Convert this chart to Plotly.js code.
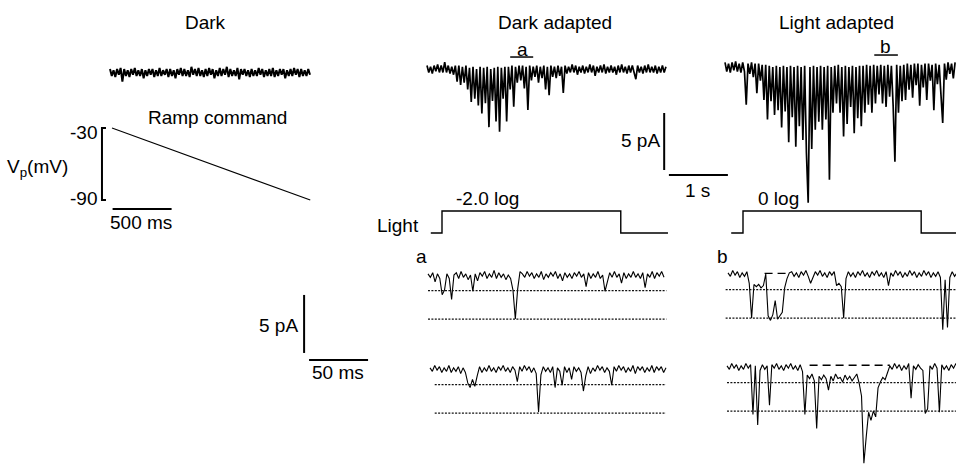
<!DOCTYPE html>
<html><head><meta charset="utf-8">
<script src="https://cdn.plot.ly/plotly-3.0.1.min.js"></script>
<style>html,body{margin:0;padding:0;background:#fff}#chart{width:956px;height:464px}</style>
</head><body><div id="chart"></div>
<script>
// ---------------- data ----------------
// Dark, ramp command: current trace (pA), sampled every darkDt seconds
const darkDt = 0.015;
const darkTrace = [
0.3,-0.3,0.2,-0.4,0.3,-0.2,0.4,-0.8,0.3,-0.3,
0.2,-0.4,0.3,-0.2,0.4,-0.3,0.2,-0.3,0.3,-0.5,
0.2,-0.3,0.3,-0.2,0.3,-0.4,0.2,-0.3,0.4,-0.3,
0.2,-0.2,0.3,-0.4,0.3,-0.3,0.2,-0.5,0.3,-0.2,
0.4,-0.3,0.3,-0.3,0.2,-0.4,0.5,-0.2,0.3,-0.3,
0.4,-0.3,0.2,-0.4,0.3,-0.3,0.4,-0.2,0.3,-0.5,
0.2,-0.3,0.4,-0.3,0.3,-0.2,0.5,-0.4,0.3,-0.3,
0.2,-0.3,0.4,-0.6,0.3,-0.2,0.3,-0.3,0.2,-0.4,
0.3,-0.3,0.2,-0.3,0.4,-0.2,0.3,-0.4,0.2,-0.3,
0.3,-0.3,0.4,-0.4,0.2,-0.3,0.3,-0.2,0.3,-0.5,
0.2,-0.3,0.3,-0.3,0.4,-0.2,0.3,-0.4,0.3,-0.3,
0.2,-0.3,0.3,-0.2];
const rampTime = [0, 1680];      // ms
const rampVoltage = [-30, -90];  // mV

// Dark adapted / light adapted traces (pA), sampled every adaptDt seconds
const adaptDt = 0.03;
const darkAdaptedTrace = [
0.3,-0.3,0.2,-0.4,0.3,-0.2,0.4,-0.3,0.3,-0.3,0.6,-0.3,0.3,-0.4,0.2,-0.5,0.3,
-1.1,0.3,-1.4,0.2,-1.2,0.3,
-1.8,0.1,-2.9,0.2,
-2.6,0.0,-3.2,0.2,-3.9,
0.1,-3.0,0.2,-5.1,0.0,
-2.8,0.1,-4.6,0.2,
-5.5,
0.1,-2.6,0.2,-4.6,
0.2,-1.8,0.3,-3.3,0.2,
-1.2,0.3,-1.0,0.3,-1.7,
0.2,-3.6,
0.3,-1.0,0.2,-0.7,0.3,-1.2,0.2,-0.8,0.3,-1.8,
0.2,-2.3,
0.3,-0.7,0.2,-0.8,0.3,-0.6,0.2,
-2.1,
0.3,-0.4,0.2,-0.3,0.4,-0.3,0.3,-0.5,0.2,-0.3,0.3,-0.4,0.2,-0.3,0.4,-0.3,0.3,-0.6,0.2,-0.3,
0.3,-0.3,0.4,-0.4,0.2,-0.3,0.3,-0.3,0.2,-0.5,0.3,-0.3,0.4,-0.3,0.2,-0.4,0.3,-0.3,0.3,-0.3,
-0.9,0.3,-0.3,0.2,-0.4,0.3,-0.3,0.4,-0.3,0.2,-0.3,0.3,-0.4,0.2,-0.3,0.3,-0.3,0.2];
const lightAdaptedTrace = [
0.4,-0.4,0.3,-0.5,0.4,-0.3,0.5,-0.4,0.3,-0.5,0.4,-0.4,
-3.3,0.3,-0.6,0.4,-0.9,0.3,
-2.3,0.3,-1.2,0.2,-2.9,0.2,
-4.6,0.1,-3.0,0.0,-4.2,0.1,-3.8,0.0,
-5.3,0.1,-3.9,0.0,-6.6,0.1,-4.4,0.0,-7.0,
0.1,-5.2,0.0,-6.4,0.1,-7.5,
-11.9,
0.0,-7.2,0.1,-5.5,0.0,-4.8,0.1,
-5.5,0.0,-4.6,0.1,-9.9,0.0,
-4.0,0.1,-3.2,0.2,-4.0,0.0,
-6.1,0.1,-5.0,0.0,
-3.5,0.1,-5.8,0.0,-4.5,0.1,-5.2,
0.1,-4.0,0.2,-3.3,0.1,-4.0,
0.2,-3.2,0.1,-2.4,0.2,-3.2,
0.1,-3.5,0.2,-2.6,0.1,-3.4,
-8.3,
0.2,-4.0,0.1,-3.0,0.2,
-2.9,0.3,-2.0,0.2,-2.7,0.3,-1.6,
0.3,-3.4,0.2,-1.8,0.3,-2.9,0.3,-1.2,0.2,-3.8,0.3,-1.5,0.2,-2.4,
-4.9,
0.3,-1.1,0.4,-0.6,0.3,-1.0,0.4];
// Light stimulus: times (s) relative to light onset, level 0 = off, 1 = on
const stepDarkT  = [-0.19, 0, 0, 3.03, 3.03, 3.83];
const stepLightT = [-0.20, 0, 0, 3.02, 3.02, 3.61];
const stepLevel  = [0, 0, 1, 1, 0, 0];
const stepLabels = ['-2.0 log', '0 log'];
// Segments (s) shown expanded below
const segA = [1.41, 1.80];
const segB = [2.53, 2.93];

// Expanded single-channel records (pA), sampled every fastDt ms
const fastDt = 2;
const traceA1 = [
0.1,-0.2,0.2,-0.6,0.1,-0.3,-1.7,-1.3,0.1,-0.3,
-2.1,0.0,0.2,-0.3,0.3,-0.2,0.1,-0.4,0.0,-1.4,
0.1,-0.5,0.2,-0.1,0.3,-0.3,0.1,-0.2,0.4,-0.3,
0.2,-0.2,0.1,-0.4,0.0,-0.3,-1.3,-3.8,-1.2,0.3,
0.1,-0.2,0.3,-0.1,0.2,-0.3,0.1,-0.2,0.3,-0.4,
0.1,-0.2,0.2,-0.1,0.3,-0.3,0.1,-0.5,0.2,-0.2,
0.1,-0.3,0.2,-0.1,0.3,-0.2,0.1,-1.0,0.2,-0.3,
0.1,-0.2,0.3,-0.3,0.0,-1.4,-0.6,0.2,-0.2,0.3,
-0.2,0.1,-0.7,0.2,-0.3,0.1,-0.2,0.3,-0.2,0.1,
-0.3,0.2,-1.1,0.1,-0.2,0.3,-0.3,0.2,-0.1,0.3,-0.2];
const traceA2 = [
0.1,-0.2,0.3,-0.1,0.2,-0.3,0.1,-0.2,0.3,-0.3,
0.1,-0.2,0.2,-0.4,0.1,-0.3,-1.2,-1.6,-0.9,-1.5,
-0.6,0.2,-0.3,0.1,-0.2,0.3,-0.2,0.1,-0.3,0.2,
-0.1,0.3,-0.2,0.1,-0.3,0.2,-0.1,-1.1,0.2,-0.2,
0.3,-0.1,0.2,-0.3,0.1,-0.4,-3.7,-0.5,0.2,-0.2,
0.1,-0.3,0.2,-1.6,0.1,-0.2,-1.4,0.2,-0.3,0.1,
-0.9,0.2,-0.2,0.1,-0.3,-1.9,-0.6,0.2,-0.4,0.1,
-0.2,0.3,-0.1,0.2,-0.3,0.1,-0.2,-1.4,0.2,-0.2,
0.3,-0.1,0.2,-0.3,0.1,-0.2,0.3,-0.4,0.2,-0.1,
0.2,-0.3,0.1,-0.2,0.3,-0.3,0.2,-0.1,0.2,-0.3,0.1];
const traceB1 = [
0.1,-0.2,0.3,-0.1,0.2,-0.3,0.1,-0.2,0.2,-0.8,
-3.8,-0.9,-1.1,-0.9,-1.2,-1.0,0.0,-3.6,-4.0,-3.5,
-2.3,-3.9,-3.6,-3.3,-1.2,-0.4,0.1,
0.2,-0.2,0.1,-0.3,0.2,-0.1,0.3,-0.2,-0.8,
-0.3,0.2,-0.1,0.3,-0.2,0.1,-0.3,0.2,-0.1,0.2,
-1.0,-0.8,-1.1,-3.8,
-0.4,0.2,-0.2,0.1,-0.3,0.2,-0.1,0.3,-0.2,0.1,
-0.3,0.2,-0.1,0.3,-0.2,0.1,-0.3,0.2,-1.0,0.1,
-0.2,0.3,-0.1,0.2,-0.3,0.1,-0.2,0.3,-0.1,0.2,
-0.3,0.1,-0.2,0.3,-0.1,0.2,-0.3,0.1,-0.2,0.2,
-0.3,-4.8,-0.5,-4.6,-0.3,0.2,-0.2,0.1,-0.3,0.2,-0.1];
const traceB2 = [
0.1,-0.2,0.3,-0.1,0.2,-0.3,0.1,-0.2,0.3,-0.1,
0.2,-4.1,0.1,-5.0,-0.3,0.2,-0.2,0.1,-3.3,0.2,
-0.1,0.3,-0.2,0.1,-0.3,0.2,-0.1,0.3,-0.2,0.1,
-0.3,0.2,-0.4,-4.1,-0.7,-1.0,-0.6,-1.2,-5.3,-0.8,
-1.1,-0.7,-1.0,-2.0,-0.8,-1.2,-0.6,-1.0,-0.9,-1.3,
-0.7,-1.1,-0.8,-1.2,-0.9,-0.6,-1.4,-2.5,-8.3,-6.0,
-3.9,-4.6,-3.8,-4.3,-1.8,-1.3,-0.9,-1.1,-0.5,0.1,
-0.2,0.3,-0.1,0.2,-0.3,0.1,-0.2,0.3,-2.7,0.1,
-0.2,0.2,-0.1,-0.3,-4.0,-3.6,0.1,-0.2,0.3,-0.1,
-3.9,0.2,-0.2,0.1,-0.3,0.2,-0.1,0.3,-0.2,0.1,-0.2];
const channelLevels = [-1.35, -3.8];   // pA, dotted lines
const closedDashB1 = [31, 52];         // ms, dashed closed level
const closedDashB2 = [70, 138];
// Scale bars
const scaleCurrent = 5;    // pA
const scaleSlow = 1;       // s
const scaleRamp = 500;     // ms
const scaleFast = 50;      // ms

// ---------------- layout helpers ----------------
const W = 956, H = 464;
const layout = {
  width: W, height: H, margin: {l:0, r:0, t:0, b:0},
  paper_bgcolor: '#fff', plot_bgcolor: 'rgba(0,0,0,0)',
  showlegend: false, annotations: [], hovermode: false
};
function panel(n, x0, x1, y0, y1, ox, oy, sx, sy) {
  const s = n === 1 ? '' : String(n);
  layout['xaxis' + s] = {domain: [x0 / W, x1 / W], range: [(x0 - ox) / sx, (x1 - ox) / sx],
    visible: false, fixedrange: true, anchor: 'y' + s};
  layout['yaxis' + s] = {domain: [1 - y1 / H, 1 - y0 / H], range: [(oy - y1) / sy, (oy - y0) / sy],
    visible: false, fixedrange: true, anchor: 'x' + s};
}
panel(1, 105, 315, 50, 95, 110, 72.5, 118, 11.4);     // dark trace
panel(2, 95, 315, 120, 215, 112, 92, 0.118, 1.2);     // ramp
panel(3, 420, 735, 35, 185, 427, 69, 59, 11.4);       // dark adapted
panel(4, 720, 956, 35, 215, 725, 67, 59, 11.4);       // light adapted
panel(5, 425, 672, 200, 240, 442, 233, 59, 22);       // light step A
panel(6, 725, 956, 200, 240, 743, 233, 59, 22);       // light step B
panel(7, 250, 672, 255, 380, 428, 275, 1.18, 11.6);   // a1
panel(8, 425, 672, 350, 430, 430, 369, 1.18, 11.6);   // a2
panel(9, 720, 956, 255, 340, 728, 274, 1.18, 11.6);   // b1
panel(10, 720, 956, 350, 464, 727, 367, 1.18, 11.6);  // b2

const ax = n => n === 1 ? {xaxis: 'x', yaxis: 'y'} : {xaxis: 'x' + n, yaxis: 'y' + n};
const traces = [];
function sampled(n, y, dt, w) {
  traces.push(Object.assign({type: 'scatter', mode: 'lines', y: y, x0: 0, dx: dt,
    line: {color: '#000', width: w || 1, simplify: false}}, ax(n)));
}
function line(n, x, y, opt) {
  traces.push(Object.assign({type: 'scatter', mode: 'lines', x: x, y: y,
    line: Object.assign({color: '#000', width: 1.2, simplify: false}, opt || {})}, ax(n)));
}

// traces
sampled(1, darkTrace, darkDt, 2.0);
line(2, rampTime, rampVoltage, {width: 1.1});
sampled(3, darkAdaptedTrace, adaptDt, 1.7);
sampled(4, lightAdaptedTrace, adaptDt, 1.7);
line(5, stepDarkT, stepLevel, {width: 1.4});
line(6, stepLightT, stepLevel, {width: 1.4});
sampled(7, traceA1, fastDt, 1.1);
sampled(8, traceA2, fastDt, 1.1);
sampled(9, traceB1, fastDt, 1.1);
sampled(10, traceB2, fastDt, 1.1);

// channel levels (dotted)
const dotted = {width: 1.4, dash: '2px,1.4px', color: '#111'};
channelLevels.forEach(L => {
  line(7, [0, 202], [L, L], dotted);
  line(8, [4, 200], [L, L], dotted);
  line(9, [-2, 194], [L, L], dotted);
  line(10, [0, 194], [L, L], dotted);
});
const dashed = {width: 1.4, dash: '8px,5px', color: '#000'};
line(9, closedDashB1, [0.05, 0.05], dashed);
line(10, closedDashB2, [0.15, 0.15], dashed);

// segment underlines
line(3, segA, [1.05, 1.05], {width: 1.5});
line(4, segB, [1.05, 1.05], {width: 1.5});

// scale bars
line(2, [-51, -85, -85, -51], [rampVoltage[0], rampVoltage[0], rampVoltage[1], rampVoltage[1]], {width: 2});
line(2, [5, 5 + scaleRamp], [-97.5, -97.5], {width: 2});
line(3, [4.02, 4.02], [-8.86, -8.86 + scaleCurrent], {width: 2});
line(3, [4.10, 4.10 + scaleSlow], [-9.3, -9.3], {width: 2});
line(7, [-105, -105], [-6.72, -6.72 + scaleCurrent], {width: 2});
line(7, [-100.8, -100.8 + scaleFast], [-7.33, -7.33], {width: 2});

// text
const FONT = {family: 'Liberation Sans, Arial, Helvetica, sans-serif', size: 19, color: '#000'};
function ann(text, xpx, ypx, xanchor) {
  layout.annotations.push({text: text, x: xpx / W, y: 1 - ypx / H, xref: 'paper', yref: 'paper',
    showarrow: false, xanchor: xanchor || 'center', yanchor: 'middle', font: FONT, borderpad: 0});
}
ann('Dark', 205, 23);
ann('Dark adapted', 555, 22);
ann('Light adapted', 836, 22);
ann('Ramp command', 217, 117);
ann(String(rampVoltage[0]), 98, 132, 'right');
ann(String(rampVoltage[1]), 98, 198, 'right');
ann('V<sub>p</sub>(mV)', 6, 168, 'left');
ann(scaleRamp + ' ms', 141, 222);
ann('a', 522, 49);
ann('b', 885, 46);
ann(scaleCurrent + ' pA', 661, 140, 'right');
ann(scaleSlow + ' s', 697, 190);
ann(stepLabels[0], 487, 198);
ann(stepLabels[1], 778, 198);
ann('Light', 420, 225, 'right');
ann('a', 421, 256);
ann('b', 722, 256);
ann(scaleCurrent + ' pA', 299, 325, 'right');
ann(scaleFast + ' ms', 338, 372);

Plotly.newPlot('chart', traces, layout, {staticPlot: true, displayModeBar: false});
</script></body></html>
